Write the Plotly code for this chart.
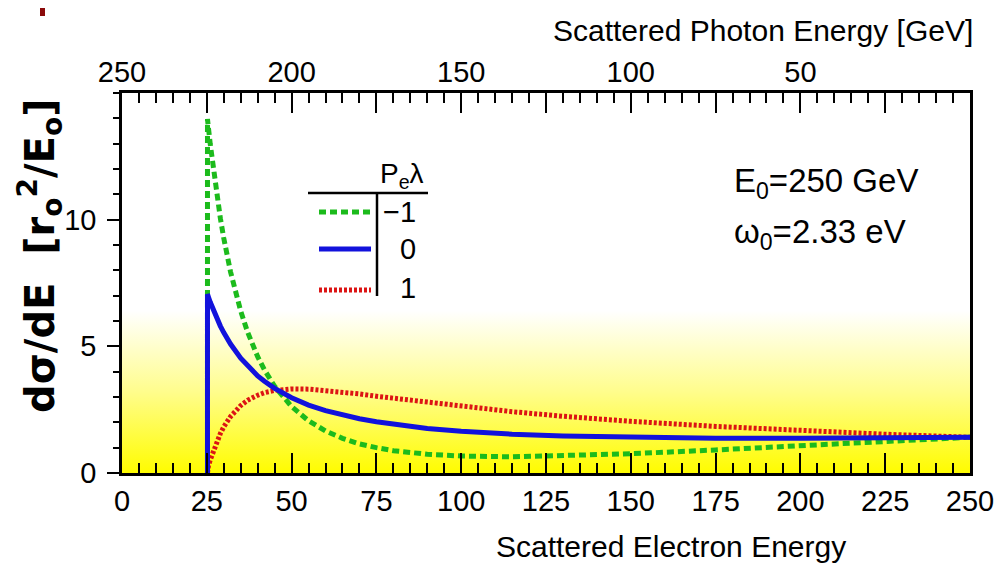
import plotly.graph_objects as go

# ---------------- data ----------------
electron_energy = [25.2, 25.2, 25.5, 26, 27, 28, 29, 30, 32, 35, 37, 40, 42, 45, 50, 55, 60,
                   65, 70, 75, 80, 90, 100, 115, 130, 150, 175, 200, 225, 250]
xsec_minus1 = [0, 13.97, 13.60, 13.00, 11.90, 10.92, 10.05, 9.27, 7.94, 6.39, 5.57, 4.59, 4.07,
               3.42, 2.62, 2.06, 1.66, 1.37, 1.15, 1.00, 0.88, 0.74, 0.67, 0.64, 0.68, 0.76,
               0.91, 1.07, 1.24, 1.41]
xsec_zero = [0, 7.06, 6.94, 6.75, 6.41, 6.09, 5.80, 5.54, 5.09, 4.53, 4.22, 3.83, 3.62, 3.34,
             2.97, 2.68, 2.46, 2.28, 2.14, 2.02, 1.92, 1.76, 1.65, 1.53, 1.46, 1.40, 1.37,
             1.37, 1.38, 1.41]
xsec_plus1 = [0, 0.14, 0.29, 0.51, 0.91, 1.26, 1.56, 1.82, 2.23, 2.66, 2.87, 3.07, 3.17, 3.26,
              3.32, 3.31, 3.26, 3.19, 3.12, 3.03, 2.95, 2.79, 2.63, 2.42, 2.24, 2.04, 1.84,
              1.67, 1.53, 1.41]

bottom_ticks = [0, 25, 50, 75, 100, 125, 150, 175, 200, 225, 250]
top_labels = [250, 200, 150, 100, 50]
y_ticks = [0, 5, 10]
legend_labels = ["\u22121", "0", "1"]

E_MAX = 250
Y_MAX = 15
BAND_TOP = 6.4

# ---------------- styling ----------------
SANS = "Liberation Sans, Arial, sans-serif"
GREEN = "#1cbb1c"
BLUE = "#1212dc"
RED = "#dc1414"

# page offset of the figure (default body margin) and target plot area in window pixels
OFF = 8
W, H = 1004 - OFF, 565 - OFF
PL, PR, PT, PB = 122, 970, 93, 473


def fx(p):
    return (p - PL) / (PR - PL)


def fy(p):
    return (PB - p) / (PB - PT)


fig = go.Figure()

# yellow background band
fig.add_trace(go.Scatter(
    x=[0, E_MAX, E_MAX, 0, 0], y=[0, 0, BAND_TOP, BAND_TOP, 0],
    fill="toself", mode="lines", line=dict(width=0),
    fillgradient=dict(type="vertical",
                      colorscale=[[0, "rgb(255,252,0)"], [0.5, "rgb(255,253,140)"], [1, "rgb(255,255,255)"]]),
    hoverinfo="skip", showlegend=False))

fig.add_trace(go.Scatter(x=electron_energy, y=xsec_minus1, mode="lines",
                         line=dict(color=GREEN, width=5, dash="7px,4px"), showlegend=False))
fig.add_trace(go.Scatter(x=electron_energy, y=xsec_plus1, mode="lines",
                         line=dict(color=RED, width=5, dash="3px,2px"), showlegend=False))
fig.add_trace(go.Scatter(x=electron_energy, y=xsec_zero, mode="lines",
                         line=dict(color=BLUE, width=5), showlegend=False))

# dummy traces to activate top axes (photon energy = E0 - electron energy)
for ax in ("x2", "x3"):
    fig.add_trace(go.Scatter(x=[E_MAX, 0], y=[None, None], xaxis=ax, yaxis="y",
                             mode="lines", showlegend=False, hoverinfo="skip"))

tick_common = dict(tickwidth=2, tickcolor="black", showgrid=False, zeroline=False, automargin=False)

fig.update_layout(
    width=W, height=H,
    margin=dict(l=PL - OFF, r=W - (PR - OFF), t=PT - OFF, b=H - (PB - OFF)),
    paper_bgcolor="white", plot_bgcolor="white",
    xaxis=dict(range=[0, E_MAX], tickmode="array", tickvals=bottom_ticks,
               ticks="inside", ticklen=20,
               minor=dict(tickmode="linear", tick0=0, dtick=5, ticks="inside", ticklen=10,
                          tickwidth=2, tickcolor="black", showgrid=False),
               showline=True, mirror=True, linecolor="black", linewidth=2.5,
               tickfont=dict(family=SANS, size=29, color="black"), **tick_common),
    xaxis2=dict(range=[E_MAX, 0], overlaying="x", side="top", anchor="y",
                tickmode="array", tickvals=top_labels, ticklabelstandoff=4,
                ticks="inside", ticklen=20,
                minor=dict(tickmode="linear", tick0=0, dtick=25, ticks="inside", ticklen=20,
                           tickwidth=2, tickcolor="black", showgrid=False),
                showline=False,
                tickfont=dict(family=SANS, size=29, color="black"), **tick_common),
    xaxis3=dict(range=[E_MAX, 0], overlaying="x", side="top", anchor="y",
                tickmode="linear", tick0=0, dtick=5, ticks="inside", ticklen=10,
                showticklabels=False, showline=False, **tick_common),
    yaxis=dict(range=[0, Y_MAX], tickmode="array", tickvals=y_ticks, ticklabelstandoff=5,
               ticks="outside", ticklen=12,
               minor=dict(tickmode="linear", tick0=0, dtick=1, ticks="outside", ticklen=6,
                          tickwidth=2, tickcolor="black", showgrid=False),
               showline=True, mirror=True, linecolor="black", linewidth=2.5,
               tickfont=dict(family=SANS, size=29, color="black"), **tick_common),
)

annotations = [
    dict(text="Scattered Electron Energy", x=fx(848), y=fy(546), xanchor="right", yanchor="middle",
         font=dict(family=SANS, size=30, color="black")),
    dict(text="Scattered Photon Energy [GeV]", x=fx(975), y=fy(31), xanchor="right", yanchor="middle",
         font=dict(family=SANS, size=30, color="black")),
    dict(text="d\u03c3/dE  [r<sub>o</sub><sup>2</sup>/E<sub>o</sub>]", x=fx(40), y=fy(256),
         xanchor="center", yanchor="middle", textangle=-90,
         font=dict(family="DejaVu Sans", size=40, color="black", weight="bold")),
    dict(text="E<sub>0</sub>=250 GeV", x=fx(732), y=fy(183), xanchor="left", yanchor="middle",
         font=dict(family=SANS, size=33, color="black")),
    dict(text="\u03c9<sub>0</sub>=2.33 eV", x=fx(732), y=fy(234), xanchor="left", yanchor="middle",
         font=dict(family=SANS, size=33, color="black")),
    dict(text="P<sub>e</sub>\u03bb", x=fx(402), y=fy(175), xanchor="center", yanchor="middle",
         font=dict(family=SANS, size=28, color="black")),
]
legend_rows = [212, 249, 288]
for lab, yy in zip(legend_labels, legend_rows):
    annotations.append(dict(text=lab, x=fx(418), y=fy(yy), xanchor="right", yanchor="middle",
                            font=dict(family=SANS, size=29, color="black")))
for a in annotations:
    a.update(xref="paper", yref="paper", showarrow=False)
fig.update_layout(annotations=annotations)

shapes = [
    # legend table lines
    dict(type="line", x0=fx(308), x1=fx(428), y0=fy(193), y1=fy(193),
         line=dict(color="black", width=2.5)),
    dict(type="line", x0=fx(377), x1=fx(377), y0=fy(193), y1=fy(296),
         line=dict(color="black", width=2.5)),
    # legend keys
    dict(type="line", x0=fx(319), x1=fx(371), y0=fy(legend_rows[0]), y1=fy(legend_rows[0]),
         line=dict(color=GREEN, width=5, dash="7px,4px")),
    dict(type="line", x0=fx(319), x1=fx(371), y0=fy(legend_rows[1]), y1=fy(legend_rows[1]),
         line=dict(color=BLUE, width=5)),
    dict(type="line", x0=fx(319), x1=fx(371), y0=fy(legend_rows[2] + 2), y1=fy(legend_rows[2] + 2),
         line=dict(color=RED, width=5, dash="3px,2px")),
    # small dark-red mark at the top-left corner of the image
    dict(type="rect", x0=fx(40), x1=fx(45), y0=fy(OFF + 8), y1=fy(OFF),
         fillcolor="#8b0a0a", line=dict(width=0)),
]
for s in shapes:
    s.update(xref="paper", yref="paper")
fig.update_layout(shapes=shapes)

fig.write_html("out.html")
